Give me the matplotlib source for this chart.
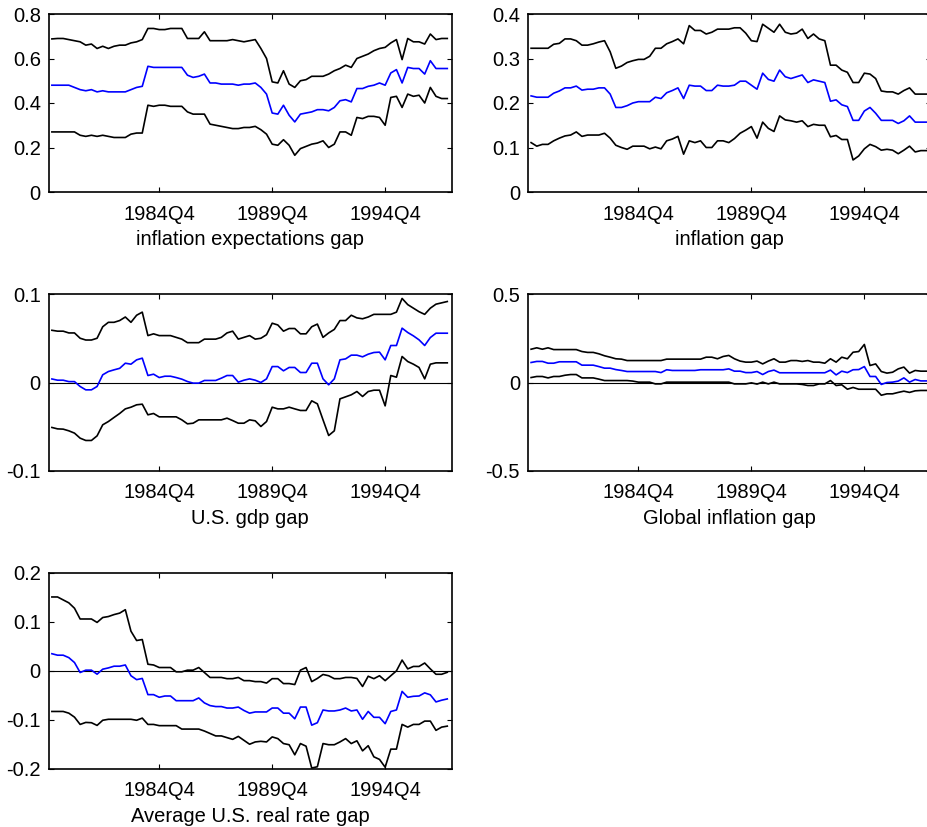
import matplotlib
matplotlib.use("Agg")
import matplotlib.pyplot as plt

plt.rcParams['font.family'] = ['Liberation Sans', 'DejaVu Sans']
plt.rcParams['axes.unicode_minus'] = False

# quarterly dates 1980Q1 .. 1997Q3
quarters = [f"{1980 + i // 4}Q{i % 4 + 1}" for i in range(71)]
tick_labels = ['1984Q4', '1989Q4', '1994Q4']

titles = ['inflation expectations gap', 'inflation gap', 'U.S. gdp gap',
          'Global inflation gap', 'Average U.S. real rate gap']

infexp_upper = [0.688, 0.69, 0.69, 0.685, 0.68, 0.675, 0.66, 0.665, 0.645, 0.655,
                0.645, 0.655, 0.66, 0.66, 0.67, 0.675, 0.685, 0.735, 0.735, 0.73,
                0.73, 0.735, 0.735, 0.735, 0.69, 0.69, 0.69, 0.72, 0.68, 0.68,
                0.68, 0.68, 0.685, 0.68, 0.675, 0.68, 0.685, 0.645, 0.60, 0.495,
                0.49, 0.545, 0.485, 0.47, 0.50, 0.505, 0.52, 0.52, 0.52, 0.53,
                0.545, 0.555, 0.57, 0.56, 0.60, 0.61, 0.62, 0.635, 0.645, 0.65,
                0.67, 0.685, 0.595, 0.69, 0.675, 0.675, 0.665, 0.71, 0.685, 0.69, 0.69]
infexp_mid = [0.48, 0.48, 0.48, 0.48, 0.47, 0.46, 0.455, 0.46, 0.45, 0.455,
              0.45, 0.45, 0.45, 0.45, 0.46, 0.47, 0.475, 0.565, 0.56, 0.56,
              0.56, 0.56, 0.56, 0.56, 0.525, 0.515, 0.52, 0.53, 0.49, 0.49,
              0.485, 0.485, 0.485, 0.48, 0.485, 0.485, 0.49, 0.47, 0.44, 0.355,
              0.35, 0.39, 0.345, 0.315, 0.35, 0.355, 0.36, 0.37, 0.37, 0.365,
              0.38, 0.41, 0.415, 0.405, 0.465, 0.465, 0.475, 0.48, 0.49, 0.48,
              0.535, 0.55, 0.49, 0.56, 0.555, 0.555, 0.53, 0.59, 0.555, 0.555, 0.555]
infexp_lower = [0.27, 0.27, 0.27, 0.27, 0.27, 0.255, 0.25, 0.255, 0.25, 0.255,
                0.25, 0.245, 0.245, 0.245, 0.26, 0.265, 0.265, 0.39, 0.385, 0.39,
                0.39, 0.385, 0.385, 0.385, 0.36, 0.35, 0.35, 0.35, 0.305, 0.30,
                0.295, 0.29, 0.285, 0.285, 0.29, 0.29, 0.295, 0.28, 0.26, 0.215,
                0.21, 0.235, 0.21, 0.165, 0.195, 0.205, 0.215, 0.22, 0.23, 0.20,
                0.215, 0.27, 0.27, 0.255, 0.335, 0.33, 0.34, 0.34, 0.335, 0.30,
                0.425, 0.43, 0.38, 0.44, 0.43, 0.435, 0.40, 0.47, 0.43, 0.42, 0.42]

inf_upper = [0.323, 0.323, 0.323, 0.323, 0.332, 0.334, 0.344, 0.344, 0.34, 0.33,
             0.33, 0.333, 0.337, 0.34, 0.315, 0.278, 0.283, 0.291, 0.295, 0.298,
             0.298, 0.305, 0.323, 0.323, 0.333, 0.338, 0.344, 0.333, 0.374, 0.363,
             0.363, 0.355, 0.359, 0.366, 0.366, 0.366, 0.369, 0.369, 0.357, 0.34,
             0.338, 0.377, 0.368, 0.359, 0.377, 0.359, 0.355, 0.357, 0.366, 0.345,
             0.355, 0.344, 0.34, 0.285, 0.285, 0.274, 0.269, 0.246, 0.246, 0.267,
             0.265, 0.255, 0.227, 0.225, 0.225, 0.22, 0.228, 0.234, 0.22, 0.22, 0.22]
inf_mid = [0.216, 0.213, 0.213, 0.213, 0.222, 0.227, 0.234, 0.234, 0.238, 0.229,
           0.231, 0.231, 0.234, 0.234, 0.22, 0.19, 0.19, 0.194, 0.2, 0.203,
           0.203, 0.203, 0.213, 0.21, 0.223, 0.228, 0.234, 0.21, 0.24, 0.238,
           0.238, 0.228, 0.228, 0.24, 0.238, 0.238, 0.24, 0.249, 0.249, 0.24,
           0.231, 0.267, 0.253, 0.249, 0.274, 0.259, 0.255, 0.259, 0.263, 0.246,
           0.252, 0.249, 0.246, 0.204, 0.207, 0.196, 0.192, 0.161, 0.161, 0.182,
           0.19, 0.177, 0.161, 0.161, 0.161, 0.154, 0.16, 0.171, 0.157, 0.157, 0.157]
inf_lower = [0.111, 0.103, 0.107, 0.107, 0.115, 0.121, 0.126, 0.128, 0.135, 0.125,
             0.128, 0.128, 0.128, 0.132, 0.121, 0.105, 0.1, 0.096, 0.103, 0.103,
             0.103, 0.097, 0.101, 0.097, 0.115, 0.119, 0.125, 0.085, 0.115, 0.111,
             0.115, 0.1, 0.1, 0.115, 0.115, 0.111, 0.12, 0.132, 0.139, 0.147,
             0.121, 0.157, 0.143, 0.136, 0.171, 0.162, 0.16, 0.157, 0.16, 0.147,
             0.152, 0.15, 0.15, 0.124, 0.127, 0.118, 0.118, 0.072, 0.081, 0.097,
             0.107, 0.102, 0.094, 0.096, 0.094, 0.086, 0.094, 0.103, 0.09, 0.093, 0.093]

gdp_upper = [0.059, 0.058, 0.058, 0.056, 0.056, 0.05, 0.048, 0.048, 0.05, 0.063,
             0.068, 0.068, 0.07, 0.074, 0.068, 0.076, 0.0795, 0.053, 0.055, 0.053,
             0.053, 0.053, 0.051, 0.049, 0.045, 0.045, 0.045, 0.049, 0.049, 0.049,
             0.051, 0.056, 0.058, 0.049, 0.051, 0.053, 0.049, 0.05, 0.054, 0.067,
             0.065, 0.058, 0.061, 0.061, 0.055, 0.055, 0.063, 0.066, 0.051, 0.056,
             0.06, 0.07, 0.07, 0.076, 0.073, 0.072, 0.074, 0.077, 0.077, 0.077,
             0.077, 0.0795, 0.095, 0.088, 0.084, 0.08, 0.077, 0.084, 0.0885, 0.09, 0.0915]
gdp_mid = [0.004, 0.0026, 0.0026, 0.001, 0.001, -0.0045, -0.0083, -0.0083, -0.0045, 0.0087,
           0.0124, 0.0143, 0.016, 0.0218, 0.0207, 0.0256, 0.0275, 0.0079, 0.0094, 0.0056,
           0.0071, 0.0071, 0.0056, 0.0038, 0.0011, -0.0007, -0.0007, 0.0023, 0.0023, 0.0023,
           0.0049, 0.0079, 0.0079, 0.0004, 0.0026, 0.0041, 0.0026, 0.0, 0.0041, 0.018,
           0.018, 0.0132, 0.017, 0.017, 0.0113, 0.0113, 0.0218, 0.0218, 0.0041, -0.0026,
           0.0041, 0.0256, 0.0267, 0.0309, 0.0309, 0.029, 0.032, 0.0339, 0.0343, 0.0256,
           0.0418, 0.0418, 0.0614, 0.0565, 0.0527, 0.0482, 0.0418, 0.0508, 0.0557, 0.0557, 0.0557]
gdp_lower = [-0.0508, -0.0524, -0.0527, -0.0546, -0.0572, -0.0629, -0.0655, -0.0655, -0.0603, -0.0478,
             -0.0441, -0.0395, -0.035, -0.0298, -0.0279, -0.0252, -0.0245, -0.0365, -0.035, -0.0388,
             -0.0388, -0.0388, -0.0388, -0.0422, -0.0467, -0.046, -0.0422, -0.0422, -0.0422, -0.0422,
             -0.0422, -0.0403, -0.043, -0.046, -0.046, -0.0422, -0.0433, -0.0497, -0.0441, -0.0279,
             -0.0298, -0.0298, -0.0279, -0.0298, -0.0316, -0.0316, -0.0207, -0.0241, -0.0422, -0.0599,
             -0.0546, -0.0185, -0.0162, -0.0139, -0.0102, -0.0158, -0.0102, -0.0087, -0.0087, -0.0264,
             0.0079, 0.006, 0.0294, 0.0237, 0.0207, 0.017, 0.0041, 0.0207, 0.0222, 0.0222, 0.0222]

glob_upper = [0.188, 0.196, 0.188, 0.196, 0.186, 0.186, 0.186, 0.186, 0.186, 0.175,
              0.17, 0.17, 0.162, 0.151, 0.143, 0.134, 0.132, 0.124, 0.124, 0.124,
              0.124, 0.124, 0.124, 0.124, 0.132, 0.132, 0.132, 0.132, 0.132, 0.132,
              0.132, 0.143, 0.143, 0.134, 0.147, 0.153, 0.134, 0.121, 0.115, 0.115,
              0.121, 0.105, 0.121, 0.134, 0.115, 0.115, 0.124, 0.124, 0.119, 0.124,
              0.115, 0.115, 0.109, 0.134, 0.115, 0.143, 0.134, 0.171, 0.175, 0.215,
              0.096, 0.105, 0.062, 0.053, 0.058, 0.077, 0.087, 0.053, 0.068, 0.064, 0.064]
glob_mid = [0.113, 0.119, 0.119, 0.109, 0.109, 0.117, 0.117, 0.117, 0.117, 0.098,
            0.098, 0.098, 0.09, 0.081, 0.081, 0.073, 0.068, 0.062, 0.062, 0.062,
            0.062, 0.062, 0.062, 0.056, 0.072, 0.068, 0.068, 0.068, 0.068, 0.068,
            0.072, 0.072, 0.072, 0.072, 0.072, 0.077, 0.064, 0.064, 0.056, 0.056,
            0.062, 0.045, 0.062, 0.07, 0.055, 0.055, 0.055, 0.055, 0.055, 0.055,
            0.055, 0.055, 0.055, 0.07, 0.043, 0.064, 0.056, 0.072, 0.073, 0.09,
            0.034, 0.034, -0.011, 0.0, 0.002, 0.008, 0.026, 0.002, 0.017, 0.009, 0.009]
glob_lower = [0.028, 0.034, 0.034, 0.026, 0.034, 0.034, 0.041, 0.045, 0.045, 0.026,
              0.026, 0.026, 0.019, 0.011, 0.011, 0.011, 0.011, 0.011, 0.008, 0.002,
              0.002, 0.002, -0.008, -0.008, 0.002, 0.002, 0.002, 0.002, 0.002, 0.002,
              0.002, 0.002, 0.002, 0.002, 0.002, 0.002, -0.008, -0.008, -0.008, -0.002,
              -0.009, 0.002, -0.008, 0.002, -0.008, -0.008, -0.008, -0.008, -0.011, -0.017,
              -0.017, -0.008, -0.008, 0.011, -0.017, -0.013, -0.038, -0.028, -0.038, -0.038,
              -0.038, -0.038, -0.072, -0.064, -0.064, -0.056, -0.049, -0.056, -0.047, -0.045, -0.045]

rate_upper = [0.151, 0.151, 0.145, 0.139, 0.128, 0.106, 0.106, 0.106, 0.099, 0.109,
              0.111, 0.115, 0.118, 0.125, 0.081, 0.062, 0.064, 0.0135, 0.012, 0.0068,
              0.0068, 0.0068, -0.002, -0.002, 0.0014, 0.0014, 0.0068, -0.0034, -0.0135, -0.0135,
              -0.0135, -0.016, -0.016, -0.0135, -0.02, -0.02, -0.022, -0.022, -0.025, -0.016,
              -0.016, -0.026, -0.026, -0.028, 0.0014, 0.0068, -0.022, -0.0155, -0.0074, -0.01,
              -0.016, -0.016, -0.0135, -0.0135, -0.0155, -0.032, -0.011, -0.016, -0.01, -0.02,
              -0.01, 0.0, 0.022, 0.004, 0.009, 0.009, 0.016, 0.004, -0.007, -0.007, -0.003]
rate_mid = [0.035, 0.032, 0.032, 0.027, 0.017, -0.0034, 0.0014, 0.0014, -0.0068, 0.0034,
            0.006, 0.0095, 0.0095, 0.012, -0.01, -0.018, -0.0155, -0.0486, -0.0486, -0.054,
            -0.0514, -0.0514, -0.061, -0.061, -0.061, -0.061, -0.0554, -0.0655, -0.071, -0.073,
            -0.073, -0.076, -0.076, -0.074, -0.081, -0.0865, -0.084, -0.084, -0.084, -0.076,
            -0.076, -0.0865, -0.0865, -0.098, -0.074, -0.074, -0.111, -0.106, -0.08, -0.082,
            -0.082, -0.08, -0.076, -0.082, -0.08, -0.099, -0.083, -0.095, -0.095, -0.108,
            -0.083, -0.08, -0.042, -0.054, -0.052, -0.0514, -0.045, -0.049, -0.0635, -0.06, -0.0574]
rate_lower = [-0.083, -0.083, -0.083, -0.0865, -0.0946, -0.1095, -0.1054, -0.106, -0.1115, -0.101,
              -0.099, -0.099, -0.099, -0.099, -0.099, -0.101, -0.0966, -0.1095, -0.1095, -0.112,
              -0.112, -0.112, -0.112, -0.119, -0.119, -0.119, -0.119, -0.123, -0.128, -0.133,
              -0.133, -0.1365, -0.14, -0.134, -0.142, -0.15, -0.1453, -0.144, -0.1453, -0.135,
              -0.1385, -0.1486, -0.151, -0.1716, -0.1486, -0.154, -0.1986, -0.196, -0.1486, -0.151,
              -0.151, -0.1453, -0.1385, -0.1486, -0.143, -0.1635, -0.153, -0.1757, -0.181, -0.197,
              -0.16, -0.16, -0.1095, -0.115, -0.1095, -0.1095, -0.1027, -0.1027, -0.1216, -0.115, -0.113]

panels = [
    (infexp_upper, infexp_mid, infexp_lower, (0, 0.8), [0, 0.2, 0.4, 0.6, 0.8], ['0', '0.2', '0.4', '0.6', '0.8'], False),
    (inf_upper, inf_mid, inf_lower, (0, 0.4), [0, 0.1, 0.2, 0.3, 0.4], ['0', '0.1', '0.2', '0.3', '0.4'], False),
    (gdp_upper, gdp_mid, gdp_lower, (-0.1, 0.1), [-0.1, 0, 0.1], ['-0.1', '0', '0.1'], True),
    (glob_upper, glob_mid, glob_lower, (-0.5, 0.5), [-0.5, 0, 0.5], ['-0.5', '0', '0.5'], True),
    (rate_upper, rate_mid, rate_lower, (-0.2, 0.2), [-0.2, -0.1, 0, 0.1, 0.2], ['-0.2', '-0.1', '0', '0.1', '0.2'], True),
]

W, H = 927, 827
fig = plt.figure(figsize=(W / 100, H / 100), dpi=100)

# axes boxes in pixels: (left, top, right, bottom)
boxes = [
    (48.5, 14, 451.8, 192),
    (527.7, 14, 931.0, 192),
    (48.5, 294, 451.8, 471),
    (527.7, 294, 931.0, 471),
    (48.5, 573, 451.8, 768.7),
]

FS = 14.5
x = list(range(len(quarters)))
tick_pos = [quarters.index(t) for t in tick_labels]

for (up, mid, lo, ylim, yt, ytl, zline), box, title in zip(panels, boxes, titles):
    l, t, r, b = box
    ax = fig.add_axes([l / W, 1 - b / H, (r - l) / W, (b - t) / H])
    if zline:
        ax.axhline(0, color='black', linewidth=0.8, zorder=1)
    ax.plot(x, up, color='black', linewidth=1.2, zorder=2)
    ax.plot(x, mid, color=(0, 0, 1), linewidth=1.2, zorder=2)
    ax.plot(x, lo, color='black', linewidth=1.2, zorder=2)
    ax.set_xlim(-0.6, 70.8)
    ax.set_ylim(*ylim)
    ax.set_yticks(yt)
    ax.set_yticklabels(ytl)
    ax.set_xticks(tick_pos)
    ax.set_xticklabels(tick_labels)
    ax.tick_params(direction='in', length=3.5, width=0.8, top=True, right=True,
                   labelsize=FS, colors='black')
    ax.tick_params(axis='x', pad=9)
    ax.tick_params(axis='y', pad=5.5)
    for s in ax.spines.values():
        s.set_linewidth(1.2)
    ax.set_xlabel(title, fontsize=FS, labelpad=5)

fig.savefig('out.png', dpi=100)
